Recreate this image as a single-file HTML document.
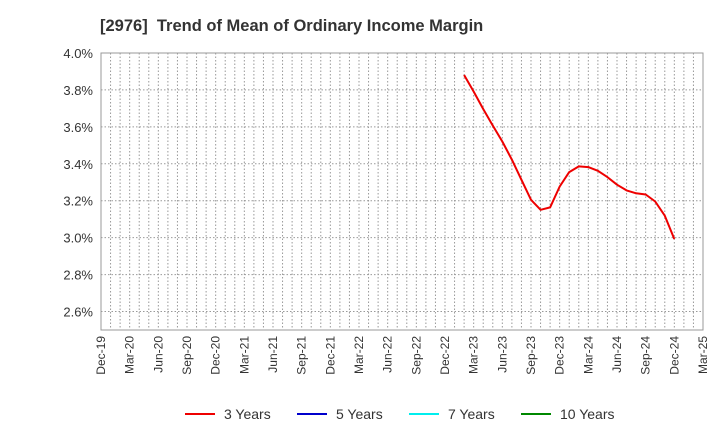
<!DOCTYPE html>
<html><head><meta charset="utf-8"><style>
body{margin:0;background:#fff;font-family:"Liberation Sans",sans-serif}
</style></head><body>
<svg id="chart" width="720" height="440" xmlns="http://www.w3.org/2000/svg">
<text x="100" y="31" font-size="16.5" font-weight="bold" fill="#333" style="white-space:pre" xml:space="preserve">[2976]  Trend of Mean of Ordinary Income Margin</text>
<rect x="101" y="53" width="602" height="277" fill="#fff" stroke="#999"/>
<g id="grid"></g><g id="axes"></g><g id="series"></g>
<g font-size="14" fill="#333">
<line x1="185" y1="414" x2="215" y2="414" stroke="#e00" stroke-width="2"/><text x="224" y="419">3 Years</text>
<line x1="297" y1="414" x2="327" y2="414" stroke="#00c" stroke-width="2"/><text x="336" y="419">5 Years</text>
<line x1="409" y1="414" x2="439" y2="414" stroke="#0ee" stroke-width="2"/><text x="448" y="419">7 Years</text>
<line x1="521" y1="414" x2="551" y2="414" stroke="#080" stroke-width="2"/><text x="560" y="419">10 Years</text>
</g>
</svg>
<script>
const xTickLabels=["Dec-19","Mar-20","Jun-20","Sep-20","Dec-20","Mar-21","Jun-21","Sep-21","Dec-21","Mar-22","Jun-22","Sep-22","Dec-22","Mar-23","Jun-23","Sep-23","Dec-23","Mar-24","Jun-24","Sep-24","Dec-24","Mar-25"];
const yTicks=[2.6,2.8,3.0,3.2,3.4,3.6,3.8,4.0];
const series3StartMonth=38; // months after Dec-19 (Feb-23)
const series3=[3.881,3.791,3.697,3.607,3.521,3.422,3.314,3.205,3.151,3.164,3.277,3.355,3.386,3.382,3.362,3.328,3.287,3.256,3.240,3.234,3.196,3.119,2.993];
const NS="http://www.w3.org/2000/svg";
const x0=101,x1=703,y0=53,y1=330,yMin=2.5,yMax=4.0,totalMonths=63;
const xs=m=>x0+(x1-x0)*m/totalMonths;
const ys=v=>y1-(y1-y0)*(v-yMin)/(yMax-yMin);
function mk(t,a,p){const e=document.createElementNS(NS,t);for(const k in a)e.setAttribute(k,a[k]);p.appendChild(e);return e;}
const grid=document.getElementById('grid'),axes=document.getElementById('axes'),ser=document.getElementById('series');
for(let m=1;m<totalMonths;m++){const l=mk('line',{x1:xs(m),x2:xs(m),y1:y0,y2:y1,stroke:'#999','stroke-dasharray':'1.5,2'},grid);

}
yTicks.forEach(v=>{const l=mk('line',{x1:x0,x2:x1,y1:ys(v),y2:ys(v),stroke:'#999','stroke-dasharray':'1.5,2'},grid);


const t=mk('text',{x:x0-8,y:ys(v)+5,'text-anchor':'end','font-size':'13',fill:'#333'},axes);t.textContent=v.toFixed(1)+'%';

});
xTickLabels.forEach((s,i)=>{const x=xs(i*3);const t=mk('text',{x:0,y:0,transform:`translate(${x+4},${y1+6}) rotate(-90)`,'text-anchor':'end','font-size':'12',fill:'#333'},axes);t.textContent=s;

});
const pts=series3.map((v,i)=>xs(series3StartMonth+i).toFixed(1)+','+ys(v).toFixed(1)).join(' ');
const pl=mk('polyline',{points:pts,fill:'none',stroke:'#e00','stroke-width':2,'stroke-linejoin':'round'},ser);


</script>
</body></html>
